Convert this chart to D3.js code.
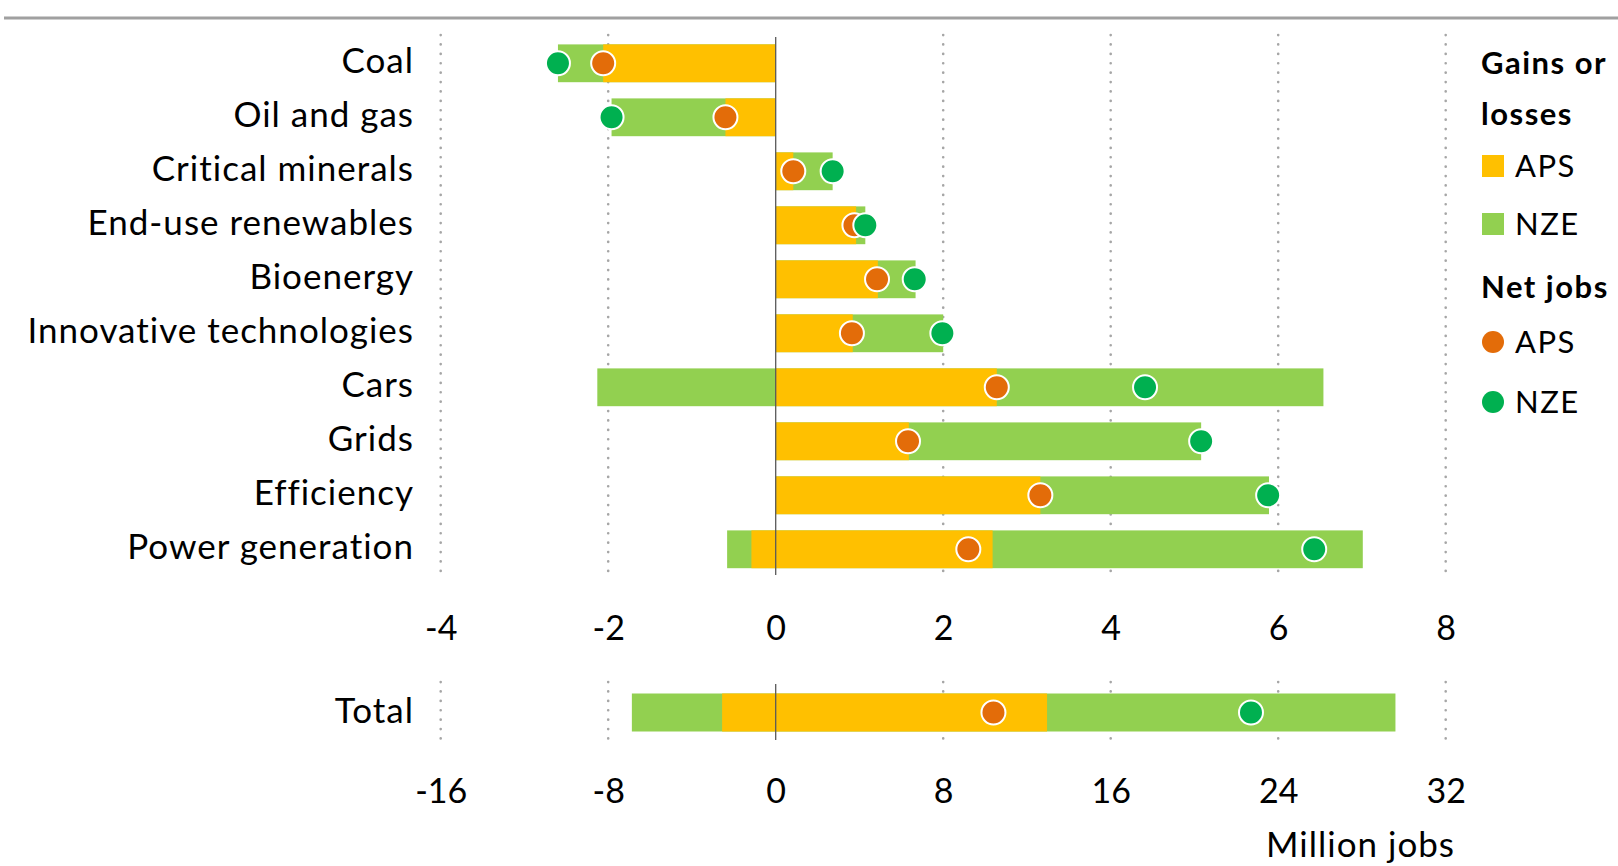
<!DOCTYPE html>
<html>
<head>
<meta charset="utf-8">
<script src="https://cdn.jsdelivr.net/npm/d3@7"></script>
<style>
  html, body { margin: 0; padding: 0; background: #fff; overflow: hidden; }
  svg { display: block; font-family: Lato, "Open Sans", sans-serif; }
</style>
</head>
<body>
<svg id="chart" width="1618" height="866"></svg>
<script>
// ---------- Data (million jobs) ----------
const categories = ["Coal", "Oil and gas", "Critical minerals", "End-use renewables", "Bioenergy",
  "Innovative technologies", "Cars", "Grids", "Efficiency", "Power generation"];
const apsGains  = [0, 0, 0.21, 0.96, 1.22, 0.92, 2.64, 1.59, 3.16, 2.59];
const apsLosses = [-2.06, -0.60, 0, 0, 0, 0, 0, 0, 0, -0.29];
const nzeGains  = [0, 0, 0.68, 1.07, 1.67, 2.00, 6.54, 5.08, 5.89, 7.01];
const nzeLosses = [-2.60, -1.96, 0, 0, 0, 0, -2.13, 0, 0, -0.58];
const apsNet    = [-2.06, -0.60, 0.21, 0.94, 1.21, 0.91, 2.64, 1.58, 3.16, 2.30];
const nzeNet    = [-2.60, -1.96, 0.68, 1.07, 1.66, 1.99, 4.41, 5.08, 5.88, 6.43];

const totalLabel = ["Total"];
const totalApsGains  = [12.96];
const totalApsLosses = [-2.56];
const totalNzeGains  = [29.6];
const totalNzeLosses = [-6.87];
const totalApsNet    = [10.4];
const totalNzeNet    = [22.7];

const topTicks = [-4, -2, 0, 2, 4, 6, 8];
const bottomTicks = [-16, -8, 0, 8, 16, 24, 32];
const unitLabel = "Million jobs";

// ---------- Styles ----------
const C = {
  apsBar: "#FFC000", nzeBar: "#92D050",
  apsDot: "#E36C09", nzeDot: "#00B050",
  grid: "#A6A6A6", zero: "#595959", text: "#000000"
};
const LABEL_SIZE = 35, LABEL_SPACING = 1;

const svg = d3.select("#chart");

// top rule
svg.append("line").attr("x1", 4).attr("x2", 1618).attr("y1", 18).attr("y2", 18)
  .attr("stroke", "#A0A0A0").attr("stroke-width", 3);

const x = d3.scaleLinear().domain([-4, 8]).range([440.7, 1445.7]);
const xT = d3.scaleLinear().domain([-16, 32]).range([440.7, 1445.7]);

const y = d3.scaleBand().domain(categories).range([36.3, 576.3]).paddingInner(0.3).paddingOuter(0.15);
const yT = d3.scaleBand().domain(totalLabel).range([693.5, 731.5]);

function drawPanel(g, xs, ys, ticks, cats, ag, al, ng, nl, an, nn, gridY0, gridY1, zeroY0, zeroY1) {
  g.append("g").selectAll("line").data(ticks.filter(t => t !== 0)).join("line")
    .attr("x1", d => xs(d)).attr("x2", d => xs(d))
    .attr("y1", gridY0).attr("y2", gridY1)
    .attr("stroke", C.grid).attr("stroke-width", 2.6)
    .attr("stroke-linecap", "round").attr("stroke-dasharray", "0.1,9.3");

  const rows = cats.map((c, i) => ({c, ag: ag[i], al: al[i], ng: ng[i], nl: nl[i], an: an[i], nn: nn[i]}));
  const bh = ys.bandwidth();
  g.append("g").selectAll("rect").data(rows).join("rect")
    .attr("x", d => xs(d.nl)).attr("width", d => xs(d.ng) - xs(d.nl))
    .attr("y", d => ys(d.c)).attr("height", bh).attr("fill", C.nzeBar);
  g.append("g").selectAll("rect").data(rows).join("rect")
    .attr("x", d => xs(d.al)).attr("width", d => xs(d.ag) - xs(d.al))
    .attr("y", d => ys(d.c)).attr("height", bh).attr("fill", C.apsBar);
  g.append("line").attr("x1", xs(0)).attr("x2", xs(0)).attr("y1", zeroY0).attr("y2", zeroY1)
    .attr("stroke", C.zero).attr("stroke-width", 1.3);
  g.append("g").selectAll("circle").data(rows).join("circle")
    .attr("cx", d => xs(d.an)).attr("cy", d => ys(d.c) + bh / 2).attr("r", 12)
    .attr("fill", C.apsDot).attr("stroke", "#fff").attr("stroke-width", 2);
  g.append("g").selectAll("circle").data(rows).join("circle")
    .attr("cx", d => xs(d.nn)).attr("cy", d => ys(d.c) + bh / 2).attr("r", 12)
    .attr("fill", C.nzeDot).attr("stroke", "#fff").attr("stroke-width", 2);
  g.append("g").selectAll("text").data(rows).join("text")
    .attr("x", 414).attr("y", d => ys(d.c) + bh / 2 + 10)
    .attr("text-anchor", "end").attr("font-size", LABEL_SIZE).attr("letter-spacing", LABEL_SPACING)
    .attr("fill", C.text)
    .text(d => d.c);
}

drawPanel(svg.append("g"), x, y, topTicks, categories, apsGains, apsLosses, nzeGains, nzeLosses, apsNet, nzeNet,
  35, 575, 37, 575);
drawPanel(svg.append("g"), xT, yT, bottomTicks, totalLabel, totalApsGains, totalApsLosses, totalNzeGains,
  totalNzeLosses, totalApsNet, totalNzeNet, 682, 742, 684, 740);

function styleAxis(g) {
  g.select(".domain").remove();
  g.selectAll(".tick line").remove();
  g.selectAll(".tick text").attr("y", 0).attr("dy", 0).attr("font-size", 34)
    .attr("font-family", "Lato, 'Open Sans', sans-serif").attr("fill", C.text)
    .text(d => String(d));
}
svg.append("g").attr("transform", "translate(0,640)")
  .call(d3.axisBottom(x).tickValues(topTicks).tickSize(0)).call(styleAxis);
svg.append("g").attr("transform", "translate(0,803)")
  .call(d3.axisBottom(xT).tickValues(bottomTicks).tickSize(0)).call(styleAxis);

svg.append("text").attr("x", 1455).attr("y", 857).attr("text-anchor", "end")
  .attr("font-size", LABEL_SIZE).attr("letter-spacing", LABEL_SPACING).attr("fill", C.text).text(unitLabel);

// legend
const lg = svg.append("g").attr("font-size", 31).attr("letter-spacing", 1.5).attr("fill", C.text);
lg.append("text").attr("x", 1481).attr("y", 74).attr("font-weight", "bold").text("Gains or");
lg.append("text").attr("x", 1481).attr("y", 125).attr("font-weight", "bold").text("losses");
lg.append("rect").attr("x", 1482).attr("y", 155).attr("width", 22).attr("height", 22).attr("fill", C.apsBar);
lg.append("text").attr("x", 1515).attr("y", 177).text("APS");
lg.append("rect").attr("x", 1482).attr("y", 213).attr("width", 22).attr("height", 22).attr("fill", C.nzeBar);
lg.append("text").attr("x", 1515).attr("y", 235).text("NZE");
lg.append("text").attr("x", 1481).attr("y", 298).attr("font-weight", "bold").text("Net jobs");
lg.append("circle").attr("cx", 1493).attr("cy", 342).attr("r", 11).attr("fill", C.apsDot);
lg.append("text").attr("x", 1515).attr("y", 353).text("APS");
lg.append("circle").attr("cx", 1493).attr("cy", 402).attr("r", 11).attr("fill", C.nzeDot);
lg.append("text").attr("x", 1515).attr("y", 413).text("NZE");
</script>
</body>
</html>
